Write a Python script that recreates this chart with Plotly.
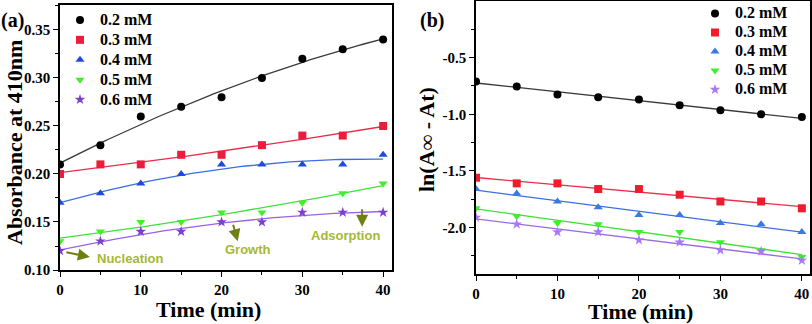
import numpy as np
import plotly.graph_objects as go

W, H = 812, 324

time_min = [0, 5, 10, 15, 20, 25, 30, 35, 40]
labels = ["0.2 mM", "0.3 mM", "0.4 mM", "0.5 mM", "0.6 mM"]

# Panel (a): absorbance at 410 nm
abs_02 = [0.21, 0.23, 0.26, 0.27, 0.28, 0.30, 0.32, 0.33, 0.34]
abs_03 = [0.20, 0.21, 0.21, 0.22, 0.22, 0.23, 0.24, 0.24, 0.25]
abs_04 = [0.17, 0.18, 0.19, 0.20, 0.21, 0.21, 0.21, 0.21, 0.22]
abs_05 = [0.13, 0.14, 0.15, 0.15, 0.16, 0.16, 0.17, 0.18, 0.19]
abs_06 = [0.12, 0.13, 0.14, 0.14, 0.15, 0.15, 0.16, 0.16, 0.16]

# Panel (b): ln(A_inf - A_t)
ln_02 = [-0.71, -0.755, -0.825, -0.85, -0.87, -0.92, -0.965, -1.00, -1.025]
ln_03 = [-1.56, -1.61, -1.61, -1.66, -1.66, -1.71, -1.77, -1.77, -1.83]
ln_04 = [-1.66, -1.70, -1.77, -1.82, -1.89, -1.89, -1.96, -1.97, -2.04]
ln_05 = [-1.83, -1.90, -1.96, -1.97, -2.04, -2.04, -2.13, -2.20, -2.26]
ln_06 = [-1.91, -1.97, -2.04, -2.04, -2.11, -2.13, -2.20, -2.21, -2.29]

series_a = [abs_02, abs_03, abs_04, abs_05, abs_06]
series_b = [ln_02, ln_03, ln_04, ln_05, ln_06]

symbols = ["circle", "square", "triangle-up", "triangle-down", "star"]
marker_a = ["#000000", "#ec1c3c", "#2249dd", "#44ee2a", "#7a3fd0"]
marker_b = ["#000000", "#ee1c2c", "#3a78e8", "#40ee30", "#a878f8"]
line_a = ["#3a3a3a", "#ec2a48", "#3a6ee0", "#3ee03a", "#9a60e8"]
line_b = ["#3a3a3a", "#e8304a", "#3a6ee0", "#3ee03a", "#9a6ae8"]

SERIF = "Liberation Serif"
SANS = "Liberation Sans"

fig = go.Figure()
t = np.array(time_min, dtype=float)
tt = np.linspace(0, 40, 81)

def msize(sym):
    return 8

def legend_name(s):
    return '<span style="font-size:16px">' + s + '</span>'

for i, ys in enumerate(series_a):
    c = np.polyfit(t, ys, 2)
    fig.add_trace(go.Scatter(x=tt, y=np.polyval(c, tt), mode="lines",
                             line=dict(color=line_a[i], width=1.3),
                             showlegend=False, xaxis="x", yaxis="y", hoverinfo="skip"))
for i, ys in enumerate(series_a):
    fig.add_trace(go.Scatter(x=time_min, y=ys, mode="markers", name=legend_name(labels[i]),
                             marker=dict(symbol=symbols[i], color=marker_a[i],
                                         size=msize(symbols[i]), line=dict(width=0)),
                             xaxis="x", yaxis="y", legend="legend"))

for i, ys in enumerate(series_b):
    c = np.polyfit(t, ys, 1)
    fig.add_trace(go.Scatter(x=tt, y=np.polyval(c, tt), mode="lines",
                             line=dict(color=line_b[i], width=1.3),
                             showlegend=False, xaxis="x2", yaxis="y2", hoverinfo="skip"))
for i, ys in enumerate(series_b):
    fig.add_trace(go.Scatter(x=time_min, y=ys, mode="markers", name=legend_name(labels[i]),
                             marker=dict(symbol=symbols[i], color=marker_b[i],
                                         size=msize(symbols[i]), line=dict(width=0)),
                             xaxis="x2", yaxis="y2", legend="legend2"))

tickfont = dict(family=SERIF, size=15, color="black", weight="bold")
axis_common = dict(showline=True, mirror=True, linecolor="black", linewidth=1.6,
                   ticks="outside", ticklen=5, tickwidth=1.4, tickcolor="black",
                   showgrid=False, zeroline=False, tickfont=tickfont, automargin=False)

def px_x(p):
    return p / W

def px_y(p):
    return (H - p) / H

fig.update_layout(
    width=W, height=H, margin=dict(l=0, r=0, t=0, b=0, autoexpand=False),
    paper_bgcolor="white", plot_bgcolor="white",
    xaxis=dict(domain=[px_x(60), px_x(392)], range=[0, 41.1], dtick=10,
               minor=dict(dtick=5, ticks="outside", ticklen=3, tickcolor="black"),
               anchor="y", **axis_common),
    yaxis=dict(domain=[px_y(270), px_y(5)], range=[0.10, 0.376], dtick=0.05,
               tickformat=".2f",
               minor=dict(dtick=0.025, ticks="outside", ticklen=3, tickcolor="black"),
               anchor="x", **axis_common),
    xaxis2=dict(domain=[px_x(476), px_x(810)], range=[0, 41.0], dtick=10,
                minor=dict(dtick=5, ticks="outside", ticklen=3, tickcolor="black"),
                anchor="y2", **axis_common),
    yaxis2=dict(domain=[px_y(274), px_y(1)], range=[-2.41, 0.0],
                tickvals=[-2.0, -1.5, -1.0, -0.5], ticktext=["-2.0", "-1.5", "-1.0", "-0.5"],
                minor=dict(tickvals=[-2.25, -1.75, -1.25, -0.75, -0.25], ticks="outside",
                           ticklen=3, tickcolor="black"),
                anchor="x2", **axis_common),
    legend=dict(x=px_x(60), y=px_y(5), xanchor="left", yanchor="top",
                bgcolor="rgba(0,0,0,0)", tracegroupgap=0,
                font=dict(family=SERIF, size=13, color="black", weight="bold")),
    legend2=dict(x=px_x(695), y=px_y(-1), xanchor="left", yanchor="top",
                 bgcolor="rgba(0,0,0,0)", tracegroupgap=0,
                 font=dict(family=SERIF, size=12, color="black", weight="bold")),
)

title_font = dict(family=SERIF, size=22, color="black", weight="bold")
anns = [
    dict(text="Absorbance at 410nm", x=px_x(14), y=px_y(143), textangle=-90, font=title_font),
    dict(text="Time (min)", x=px_x(208), y=px_y(309), font=title_font),
    dict(text="ln(A\u221e - At)", x=px_x(426), y=px_y(140), textangle=-90, font=title_font),
    dict(text="Time (min)", x=px_x(640), y=px_y(311), font=title_font),
    dict(text="(a)", x=px_x(12), y=px_y(20), font=dict(family=SERIF, size=20, color="black", weight="bold")),
    dict(text="(b)", x=px_x(432), y=px_y(21), font=dict(family=SERIF, size=20, color="black", weight="bold")),
]
for a in anns:
    fig.add_annotation(xref="paper", yref="paper", showarrow=False,
                       xanchor="center", yanchor="middle", **a)

arrow_col = "#6f7f14"
text_col = "#a6b832"
ann_font = dict(family=SANS, size=13, color=text_col, weight="bold")
for (hx, hy, ax, ay) in [(3.7, 0.1135, -25, -5), (22.0, 0.130, -5, -18), (37.4, 0.145, 0, -19)]:
    fig.add_annotation(xref="x", yref="y", x=hx, y=hy, ax=ax, ay=ay, text="",
                       showarrow=True, arrowhead=2, arrowsize=1.2, arrowwidth=2,
                       arrowcolor=arrow_col)
fig.add_annotation(xref="x", yref="y", x=4.3, y=0.1115, text="Nucleation", showarrow=False,
                   xanchor="left", yanchor="middle", font=ann_font)
fig.add_annotation(xref="x", yref="y", x=23.3, y=0.121, text="Growth", showarrow=False,
                   xanchor="center", yanchor="middle", font=ann_font)
fig.add_annotation(xref="x", yref="y", x=35.4, y=0.1355, text="Adsorption", showarrow=False,
                   xanchor="center", yanchor="middle", font=ann_font)

fig.write_html("out.html", config={"displayModeBar": False},
               post_script="document.body.style.margin='0';document.body.style.padding='0';")
